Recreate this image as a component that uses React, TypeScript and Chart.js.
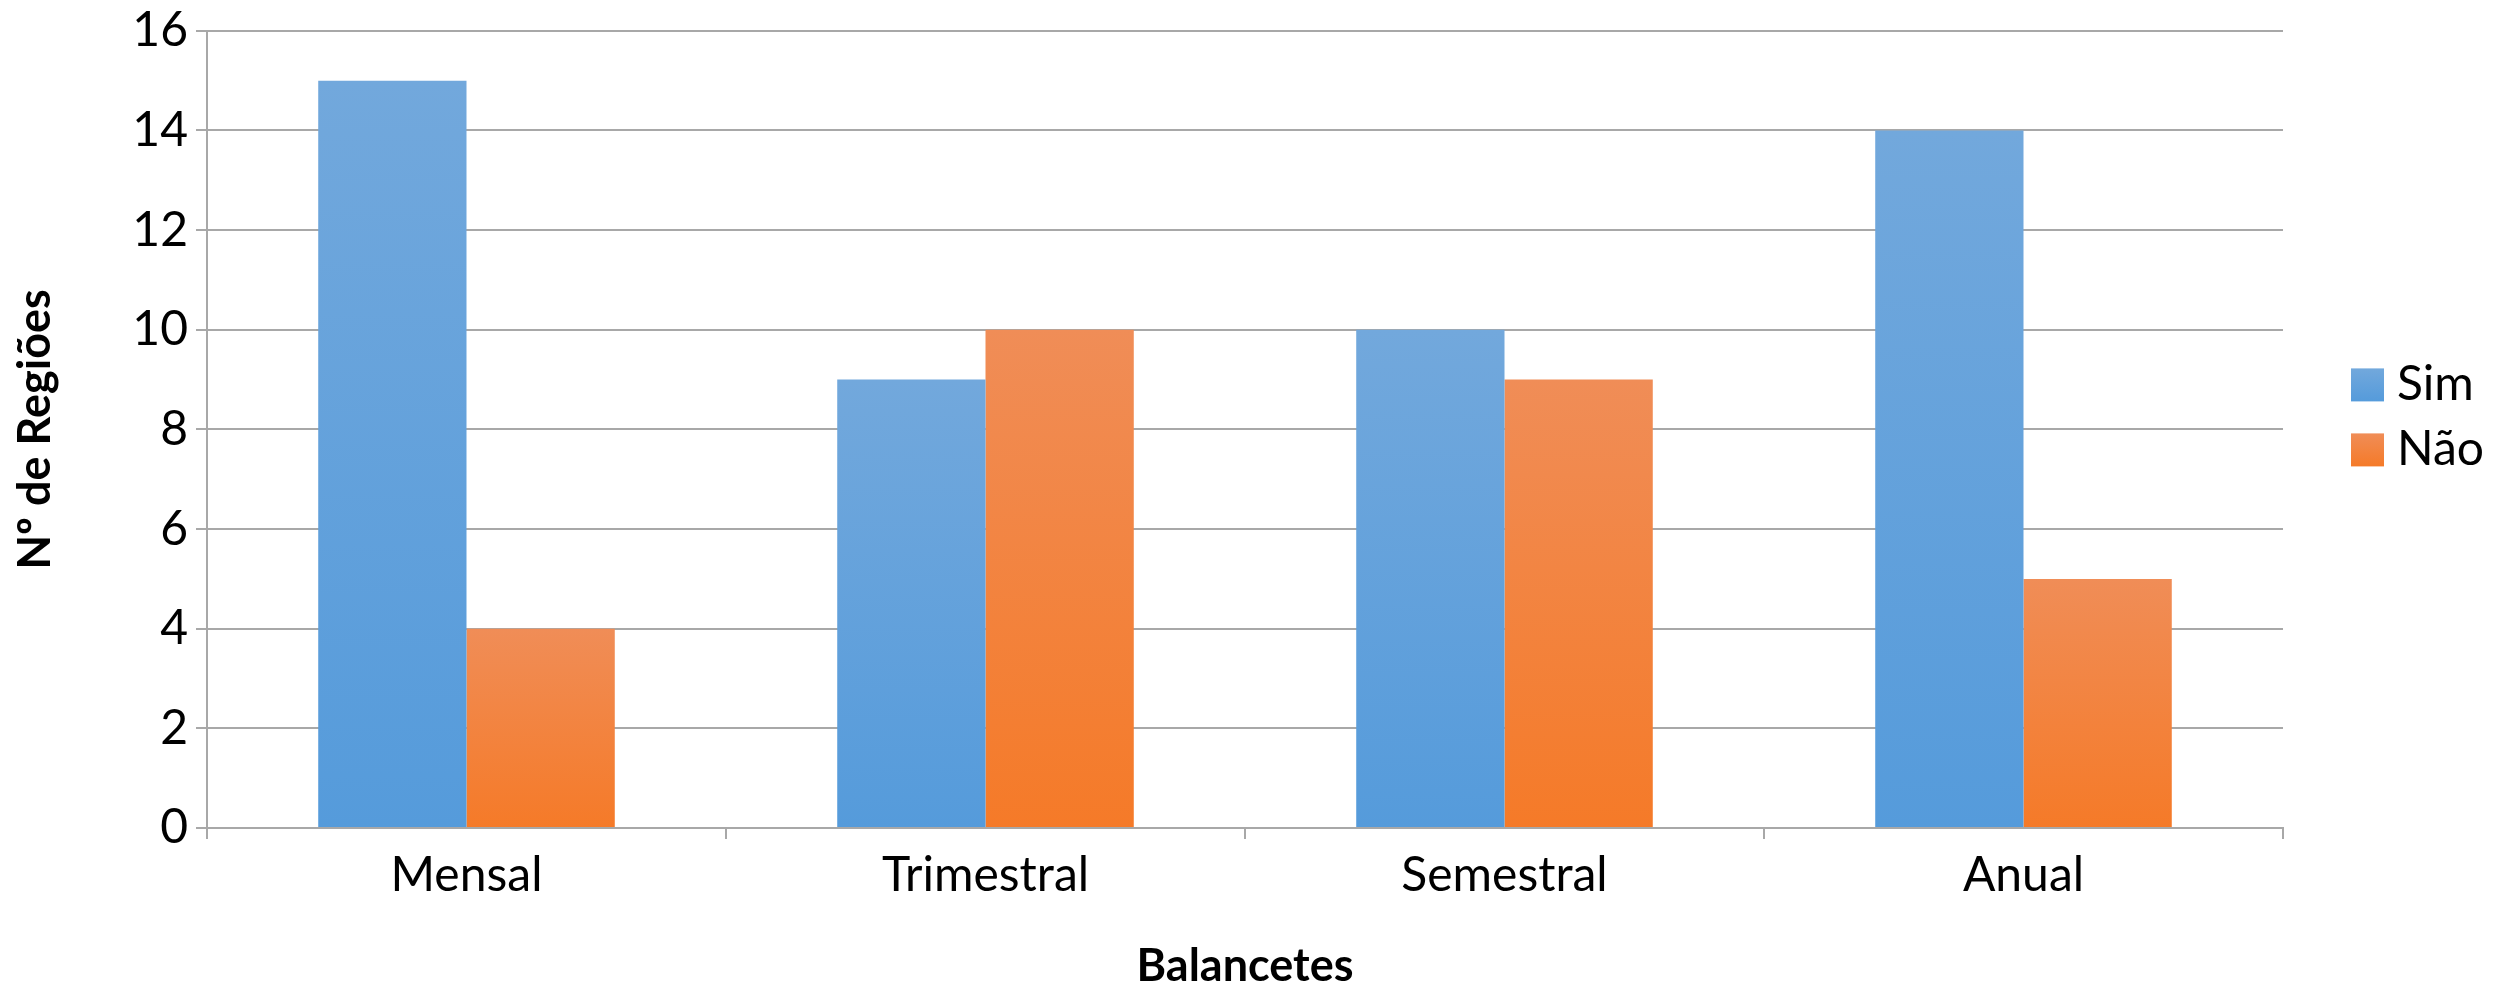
import React, { useEffect, useRef } from "react";
import { Chart, registerables } from "chart.js";

Chart.register(...registerables);

// ---- data ----
const categories = ["Mensal", "Trimestral", "Semestral", "Anual"];
const seriesLabels = ["Sim", "Não"];
const simValues = [15, 9, 10, 14];
const naoValues = [4, 10, 9, 5];
const yMin = 0;
const yMax = 16;
const yStep = 2;
const yAxisTitle = "Nº de Regiões";
const xAxisTitle = "Balancetes";

// ---- styles ----
const FONT = "Lato, 'Open Sans', sans-serif";
const BLUE: [string, string] = ["#72a8dc", "#559bdb"];
const ORANGE: [string, string] = ["#f08d57", "#f57a28"];
const GRID = "#a8a8a8";

function barGradient(colors: [string, string]) {
  return (ctx: any) => {
    const chart = ctx.chart;
    const y = chart.scales && chart.scales.y;
    if (ctx.type !== "data" || !y) return colors[1];
    const v = ctx.raw as number;
    const top = y.getPixelForValue(v);
    const base = y.getPixelForValue(0);
    if (!isFinite(top) || !isFinite(base) || top === base) return colors[1];
    const g = chart.ctx.createLinearGradient(0, top, 0, base);
    g.addColorStop(0, colors[0]);
    g.addColorStop(1, colors[1]);
    return g;
  };
}

const sideLegend = {
  id: "sideLegend",
  afterDraw(chart: any) {
    const { ctx, chartArea } = chart;
    const ds = chart.data.datasets;
    const box = 33;
    const rowGap = 65;
    const mid = (chartArea.top + chartArea.bottom) / 2 - 12;
    ctx.save();
    ds.forEach((d: any, i: number) => {
      const cy = mid + (i - (ds.length - 1) / 2) * rowGap;
      const x = chartArea.right + 68;
      const cols: [string, string] = d.legendColors;
      const g = ctx.createLinearGradient(0, cy - box / 2, 0, cy + box / 2);
      g.addColorStop(0, cols[0]);
      g.addColorStop(1, cols[1]);
      ctx.fillStyle = g;
      ctx.fillRect(x, cy - box / 2, box, box);
      ctx.fillStyle = "#000";
      ctx.font = `48px ${FONT}`;
      ctx.textBaseline = "middle";
      ctx.textAlign = "left";
      ctx.fillText(d.label, x + box + 13, cy);
    });
    ctx.restore();
  },
};

export default function App() {
  const ref = useRef<HTMLCanvasElement | null>(null);

  useEffect(() => {
    if (!ref.current) return;
    const chart = new Chart(ref.current, {
      type: "bar",
      data: {
        labels: categories,
        datasets: [
          {
            label: seriesLabels[0],
            data: simValues,
            backgroundColor: barGradient(BLUE),
            borderWidth: 0,
            legendColors: BLUE,
          } as any,
          {
            label: seriesLabels[1],
            data: naoValues,
            backgroundColor: barGradient(ORANGE),
            borderWidth: 0,
            legendColors: ORANGE,
          } as any,
        ],
      },
      options: {
        responsive: false,
        animation: false,
        devicePixelRatio: 1,
        layout: { padding: { left: 0, right: 212, top: 0, bottom: 0 } },
        datasets: {
          bar: { categoryPercentage: 0.5714, barPercentage: 1 },
        },
        plugins: {
          legend: { display: false },
          tooltip: { enabled: false },
        },
        scales: {
          x: {
            grid: {
              display: true,
              drawOnChartArea: false,
              drawTicks: true,
              tickLength: 11,
              color: GRID,
              lineWidth: 2,
              offset: true,
            },
            border: { display: true, color: GRID, width: 2 },
            ticks: {
              color: "#000",
              font: { family: FONT, size: 48 },
              padding: 8,
            },
            title: {
              display: true,
              text: xAxisTitle,
              color: "#000",
              font: { family: FONT, size: 45, weight: "bold", lineHeight: 1 },
              padding: { top: 0, bottom: 0 },
            },
            afterFit: (s: any) => {
              s.height = 161;
            },
          },
          y: {
            min: yMin,
            max: yMax,
            ticks: {
              stepSize: yStep,
              color: "#000",
              font: { family: FONT, size: 48, lineHeight: 0.95 },
              padding: 8,
            },
            grid: {
              color: GRID,
              lineWidth: 2,
              drawTicks: true,
              tickLength: 11,
            },
            border: { display: true, color: GRID, width: 2 },
            title: {
              display: true,
              text: yAxisTitle,
              color: "#000",
              font: { family: FONT, size: 45, weight: "bold", lineHeight: 1.2 },
              padding: { top: 8, bottom: 0 },
            },
            afterFit: (s: any) => {
              s.width = 207;
            },
          },
        },
      },
      plugins: [sideLegend],
    });
    let alive = true;
    if ((document as any).fonts && (document as any).fonts.ready) {
      (document as any).fonts.ready.then(() => {
        if (alive) chart.update();
      });
    }
    return () => {
      alive = false;
      chart.destroy();
    };
  }, []);

  return (
    <div style={{ position: "fixed", left: 0, top: 0, width: 2495, height: 989, background: "#fff" }}>
      <canvas ref={ref} width={2495} height={989} style={{ display: "block", width: 2495, height: 989 }} />
    </div>
  );
}
